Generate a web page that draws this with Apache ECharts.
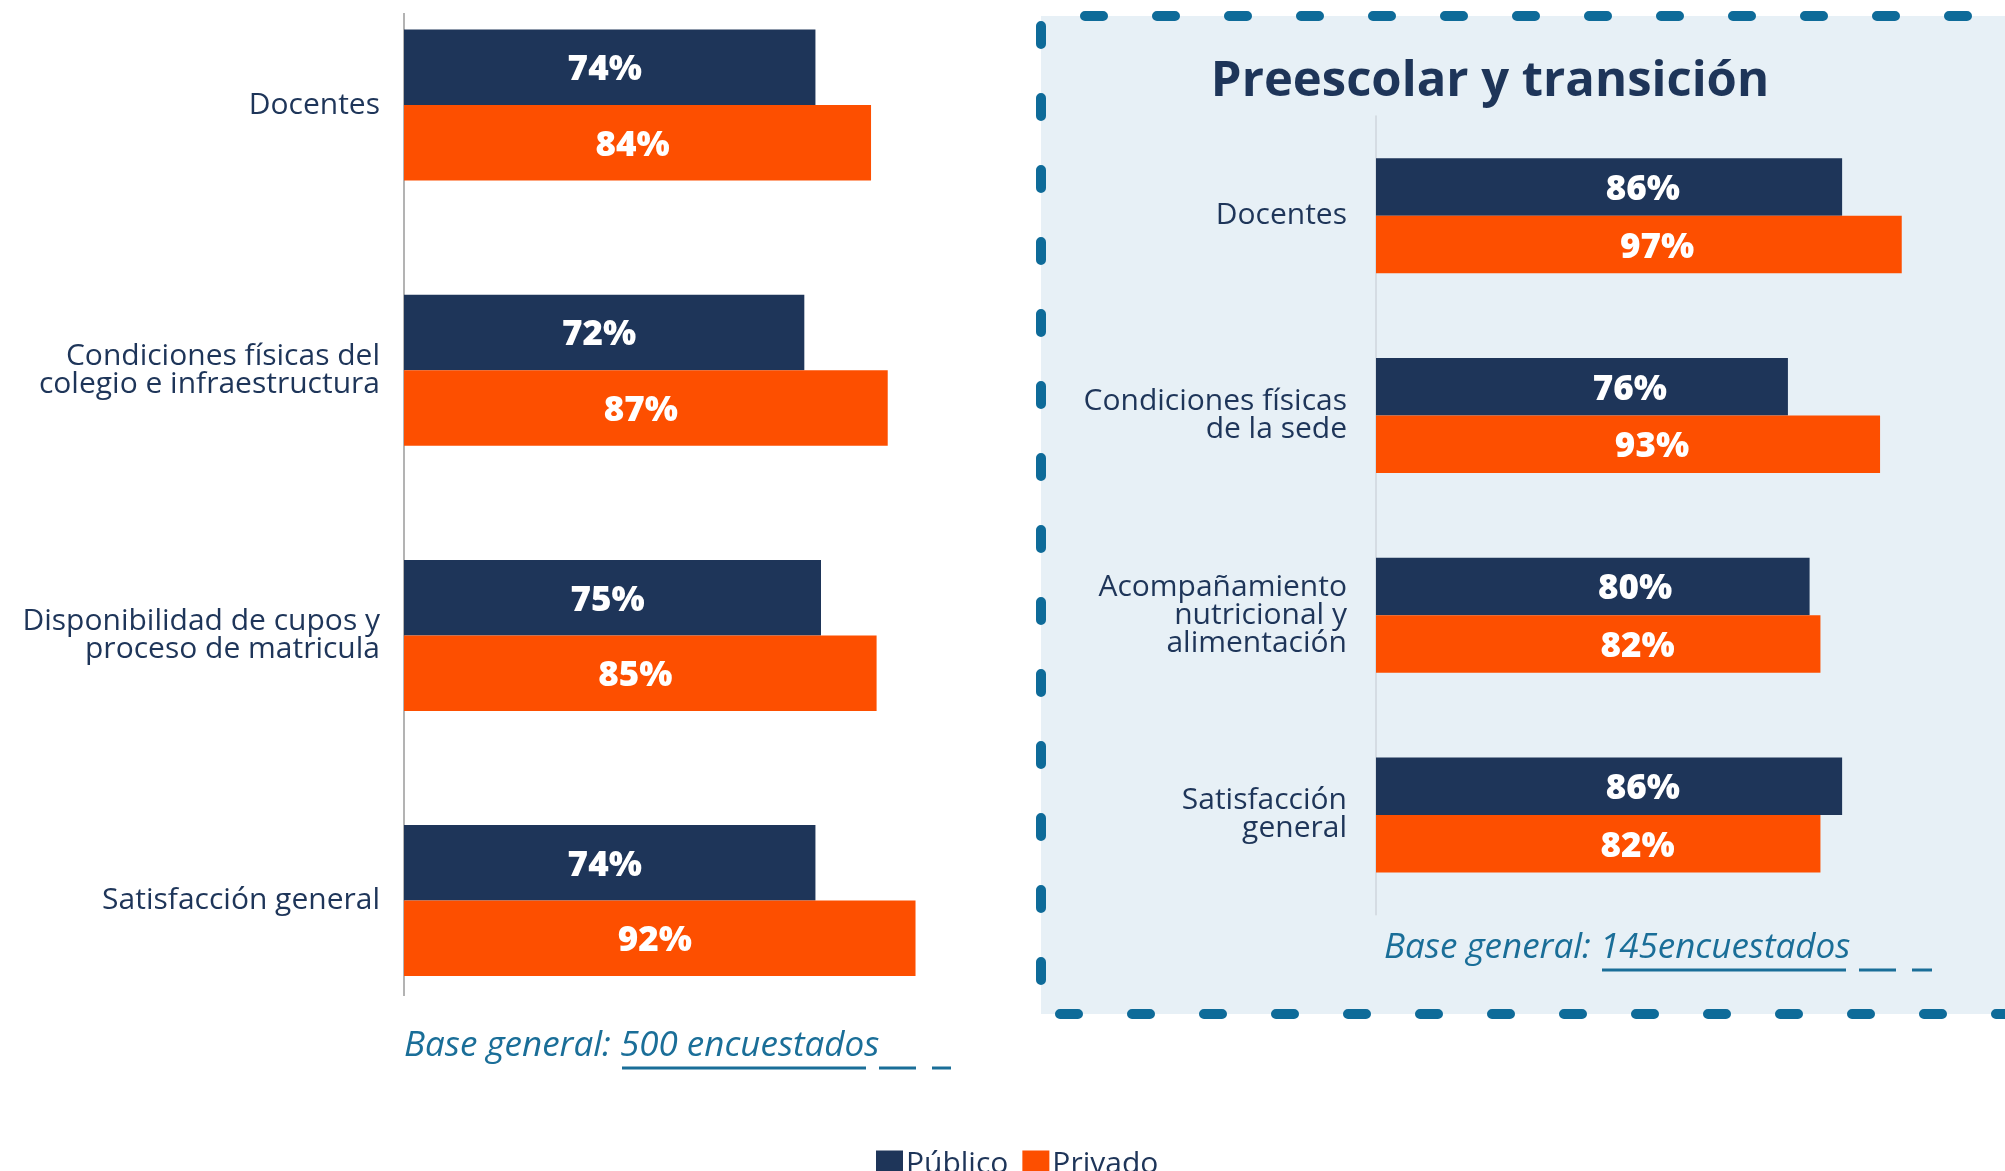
<!DOCTYPE html>
<html>
<head>
<meta charset="utf-8">
<script src="https://cdn.jsdelivr.net/npm/echarts@6/dist/echarts.min.js"></script>
<style>
html,body{margin:0;padding:0;background:#fff;}
#chart{width:2005px;height:1171px;}
</style>
</head>
<body>
<div id="chart"></div>
<script>
const seriesNames = ['Público', 'Privado'];
const leftCategories = ['Docentes', 'Condiciones físicas del\ncolegio e infraestructura', 'Disponibilidad de cupos y\nproceso de matricula', 'Satisfacción general'];
const leftPublico = [74, 72, 75, 74];
const leftPrivado = [84, 87, 85, 92];
const rightTitle = 'Preescolar y transición';
const rightCategories = ['Docentes', 'Condiciones físicas\nde la sede', 'Acompañamiento\nnutricional y\nalimentación', 'Satisfacción\ngeneral'];
const rightPublico = [86, 76, 80, 86];
const rightPrivado = [97, 93, 82, 82];
const leftBase = 'Base general: 500 encuestados';
const rightBase = 'Base general: 145encuestados';

const NAVY = '#1e3559';
const ORANGE = '#fd4f00';
const TEAL = '#1a6e98';
const DASH = '#0e6b99';
const FONT = '"Open Sans", "Noto Sans", sans-serif';

const chart = echarts.init(document.getElementById('chart'));

const valueLabel = {
  show: true, position: 'inside', formatter: '{c}%',
  color: '#fff', fontFamily: FONT, fontWeight: 800, fontSize: 35
};

function rightLabelLayout(p) {
  return {
    x: p.rect.x + 155 + 0.24 * p.rect.width,
    y: p.rect.y + p.rect.height / 2 + 3,
    align: 'center', verticalAlign: 'middle'
  };
}

function dashedLine(x1, y1, x2, y2, offset) {
  return {
    type: 'line', z: -1,
    shape: {x1, y1, x2, y2},
    style: {stroke: DASH, lineWidth: 10, lineDash: [18, 54], lineDashOffset: offset, lineCap: 'round'}
  };
}
function solid(x1, x2, y) {
  return {type: 'line', shape: {x1, y1: y, x2, y2: y}, style: {stroke: TEAL, lineWidth: 3}};
}

const option = {
  backgroundColor: '#fff',
  animation: false,
  color: [NAVY, ORANGE],
  legend: {
    data: seriesNames, left: 871, top: 1144, itemWidth: 27, itemHeight: 27, itemGap: 14,
    icon: 'rect', textStyle: {fontFamily: FONT, fontSize: 30, color: NAVY, padding: [0, 0, 0, -2]}
  },
  grid: [
    {left: 404, width: 556, top: 105, height: 795.6},
    {left: 1376, width: 542, top: 116, height: 798.8}
  ],
  xAxis: [
    {gridIndex: 0, type: 'value', min: 0, max: 100, show: false},
    {gridIndex: 1, type: 'value', min: 0, max: 100, show: false}
  ],
  yAxis: [
    {gridIndex: 0, type: 'category', inverse: true, boundaryGap: false, data: leftCategories,
     axisLine: {show: false}, axisTick: {show: false},
     axisLabel: {margin: 24, fontFamily: FONT, fontSize: 30, color: NAVY, lineHeight: 28}},
    {gridIndex: 1, type: 'category', inverse: true, data: rightCategories,
     axisLine: {show: true, lineStyle: {color: '#cfd6dc', width: 1.5}}, axisTick: {show: false},
     axisLabel: {margin: 29, fontFamily: FONT, fontSize: 30, color: NAVY, lineHeight: 28}}
  ],
  series: [
    {name: seriesNames[0], type: 'bar', xAxisIndex: 0, yAxisIndex: 0, data: leftPublico,
     barWidth: 75.5, barGap: '0%', label: Object.assign({offset: [-5, 3]}, valueLabel)},
    {name: seriesNames[1], type: 'bar', xAxisIndex: 0, yAxisIndex: 0, data: leftPrivado,
     barWidth: 75.5, barGap: '0%', label: Object.assign({offset: [-5, 3]}, valueLabel)},
    {name: seriesNames[0], type: 'bar', xAxisIndex: 1, yAxisIndex: 1, data: rightPublico,
     barWidth: 57.5, barGap: '0%', label: valueLabel, labelLayout: rightLabelLayout},
    {name: seriesNames[1], type: 'bar', xAxisIndex: 1, yAxisIndex: 1, data: rightPrivado,
     barWidth: 57.5, barGap: '0%', label: valueLabel, labelLayout: rightLabelLayout}
  ],
  graphic: [
    {type: 'rect', z: -2, shape: {x: 1041, y: 16, width: 1000, height: 998}, style: {fill: '#e7f0f6'}},
    dashedLine(1041, 16, 2010, 16, 28),
    dashedLine(1041, 1014, 2010, 1014, 53),
    dashedLine(1041, 16, 1041, 1014, 62),
    {type: 'line', shape: {x1: 404, y1: 13, x2: 404, y2: 996}, style: {stroke: '#b3b3b3', lineWidth: 2}},
    {type: 'text', x: 1490, y: 82, style: {text: rightTitle, font: 'bold 49px ' + FONT, fill: NAVY, align: 'center', verticalAlign: 'middle'}},
    {type: 'text', x: 404, y: 1046, style: {text: leftBase, font: 'italic 35px ' + FONT, fill: TEAL, align: 'left', verticalAlign: 'middle'}},
    {type: 'text', x: 1384, y: 948, style: {text: rightBase, font: 'italic 35px ' + FONT, fill: TEAL, align: 'left', verticalAlign: 'middle'}},
    solid(622, 866, 1068), solid(879, 916, 1068), solid(932, 951, 1068),
    solid(1602, 1846, 970), solid(1859, 1896, 970), solid(1912, 1932, 970)
  ]
};
chart.setOption(option);
</script>
</body>
</html>
